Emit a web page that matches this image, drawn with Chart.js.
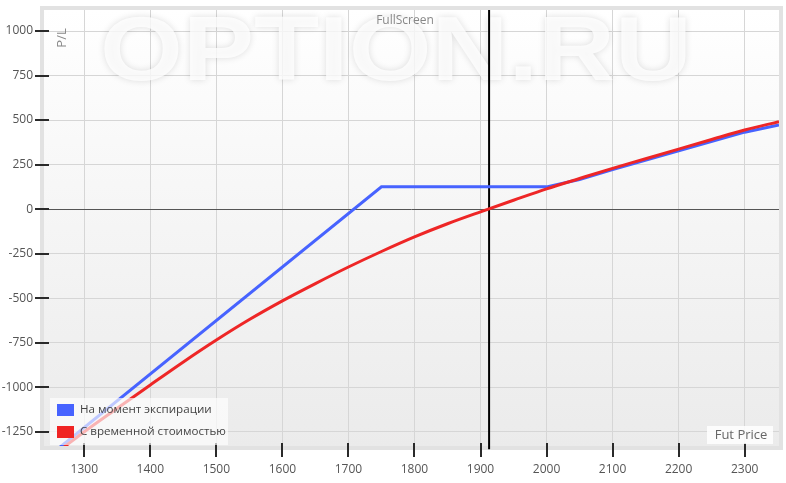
<!DOCTYPE html>
<html>
<head>
<meta charset="utf-8">
<script src="https://cdn.jsdelivr.net/npm/chart.js@4.4.0/dist/chart.umd.min.js"></script>
<style>
  html, body { margin: 0; padding: 0; background: #fff; }
  #wrap { width: 786px; height: 483px; }
</style>
</head>
<body>
<div id="wrap"><canvas id="pl-chart" width="786" height="483"></canvas></div>
<script>
// P/L at expiration
const expPrices = [1262, 1750, 2000, 2050, 2100, 2200, 2300, 2352];
const expValues = [-1340, 125, 125, 166, 222, 328, 432, 472];

// P/L with time value
const timePrices = [1268, 1300, 1350, 1400, 1450, 1500, 1550, 1600, 1650, 1700, 1750,
  1800, 1850, 1900, 1950, 2000, 2050, 2100, 2150, 2200, 2250, 2300, 2352];
const timeValues = [-1340, -1250, -1118, -987, -858, -735, -620, -515, -418, -325, -238,
  -156, -82, -15, 50, 114, 172, 229, 283, 337, 391, 444, 491];

const currentPrice = 1913;

const xTicks = [1300, 1400, 1500, 1600, 1700, 1800, 1900, 2000, 2100, 2200, 2300];
const yTicks = [-1250, -1000, -750, -500, -250, 0, 250, 500, 750, 1000];

const seriesLabels = ['На момент экспирации', 'С временной стоимостью'];

const xMin = 1239, xMax = 2352;
const yMin = -1330, yMax = 1118;

const FONT = "'Open Sans', 'DejaVu Sans', sans-serif";

function pairs(xs, ys) {
  return xs.map(function (x, i) { return { x: x, y: ys[i] }; });
}

// frame, gradient background and watermark
const backdrop = {
  id: 'backdrop',
  beforeDraw: function (chart) {
    const ctx = chart.ctx;
    const a = chart.chartArea;
    ctx.save();
    ctx.fillStyle = '#e2e2e2';
    ctx.fillRect(a.left - 4, a.top - 4, a.right - a.left + 8, a.bottom - a.top + 8);
    const g = ctx.createLinearGradient(0, a.top, 0, a.bottom);
    g.addColorStop(0, '#ffffff');
    g.addColorStop(1, '#ebebeb');
    ctx.fillStyle = g;
    ctx.fillRect(a.left, a.top, a.right - a.left, a.bottom - a.top);
    ctx.restore();
  },
  beforeDatasetsDraw: function (chart) {
    const ctx = chart.ctx;
    ctx.save();
    ctx.font = "bold 90px 'Liberation Sans', Arial, sans-serif";
    const txt = 'OPTION.RU';
    const w = ctx.measureText(txt).width;
    const sx = 592 / w;
    ctx.translate(100, 80);
    ctx.scale(sx, 1);
    ctx.shadowColor = 'rgba(0,0,0,0.16)';
    ctx.shadowBlur = 7;
    ctx.fillStyle = 'rgba(255,255,255,0.8)';
    ctx.textBaseline = 'alphabetic';
    ctx.fillText(txt, 0, 0);
    ctx.restore();
  },
  afterDraw: function (chart) {
    const ctx = chart.ctx;
    const a = chart.chartArea;
    const xs = chart.scales.x, ys = chart.scales.y;
    ctx.save();
    // dark tick marks crossing the frame
    ctx.strokeStyle = '#2a2a2a';
    ctx.lineWidth = 2;
    ctx.beginPath();
    xTicks.forEach(function (v) {
      const px = Math.round(xs.getPixelForValue(v));
      ctx.moveTo(px, a.bottom - 3);
      ctx.lineTo(px, a.bottom + 11);
    });
    yTicks.forEach(function (v) {
      const py = Math.round(ys.getPixelForValue(v));
      ctx.moveTo(a.left - 9, py);
      ctx.lineTo(a.left + 5, py);
    });
    ctx.stroke();
    // legend box inside the plot
    ctx.fillStyle = 'rgba(255,255,255,0.65)';
    ctx.fillRect(a.left + 6, 398, 178, 47);
    const colors = ['#4763ff', '#f02424'];
    ctx.font = '11.6px ' + FONT;
    ctx.textBaseline = 'middle';
    ctx.textAlign = 'left';
    for (let i = 0; i < 2; i++) {
      const y = 410 + i * 22;
      ctx.fillStyle = colors[i];
      ctx.fillRect(57, y - 6, 17, 12);
      ctx.fillStyle = '#444';
      ctx.fillText(seriesLabels[i], 80, y);
    }
    // axis captions
    ctx.fillStyle = 'rgba(255,255,255,0.85)';
    ctx.fillRect(707, 426, 66, 18);
    ctx.fillStyle = '#666';
    ctx.font = '13px ' + FONT;
    ctx.textAlign = 'center';
    ctx.fillText('Fut Price', 741, 435);
    ctx.fillStyle = '#888';
    ctx.font = '12px ' + FONT;
    ctx.fillText('FullScreen', 405, 21);
    ctx.translate(62, 38);
    ctx.rotate(-Math.PI / 2);
    ctx.font = '13px ' + FONT;
    ctx.fillText('P/L', 0, 0);
    ctx.restore();
  }
};

new Chart(document.getElementById('pl-chart'), {
  type: 'line',
  data: {
    datasets: [{
      label: seriesLabels[0],
      data: pairs(expPrices, expValues),
      borderColor: '#4763ff',
      borderWidth: 3,
      pointRadius: 0,
      order: 2
    },
    {
      label: seriesLabels[1],
      data: pairs(timePrices, timeValues),
      borderColor: '#ee2626',
      borderWidth: 3,
      pointRadius: 0,
      cubicInterpolationMode: 'monotone',
      order: 1
    },
    {
      label: 'price',
      data: [{ x: currentPrice, y: yMax }, { x: currentPrice, y: yMin - 18 }],
      borderColor: '#000',
      borderWidth: 2,
      pointRadius: 0,
      clip: false,
      order: 3
    }]
  },
  options: {
    responsive: false,
    animation: false,
    layout: { padding: { top: 10, right: 7, left: 0, bottom: 0 } },
    plugins: {
      legend: { display: false },
      tooltip: { enabled: false }
    },
    scales: {
      x: {
        type: 'linear',
        min: xMin,
        max: xMax,
        afterBuildTicks: function (s) { s.ticks = xTicks.map(function (v) { return { value: v }; }); },
        afterFit: function (s) { s.height = 37; },
        border: { display: false },
        grid: {
          color: '#d6d6d6',
          tickColor: 'rgba(0,0,0,0)',
          tickLength: 11
        },
        ticks: {
          color: '#555',
          padding: 5,
          maxRotation: 0,
          callback: function (v) { return String(v); },
          font: { size: 12, family: FONT }
        }
      },
      y: {
        min: yMin,
        max: yMax,
        afterBuildTicks: function (s) { s.ticks = yTicks.map(function (v) { return { value: v }; }); },
        afterFit: function (s) { s.width = 44; },
        border: { display: false },
        grid: {
          color: function (c) { return c.tick && c.tick.value === 0 ? '#555' : '#d6d6d6'; },
          tickColor: 'rgba(0,0,0,0)',
          tickLength: 9
        },
        ticks: {
          color: '#555',
          padding: 2,
          callback: function (v) { return String(v); },
          font: { size: 12, family: FONT }
        }
      }
    }
  },
  plugins: [backdrop]
});
</script>
</body>
</html>
